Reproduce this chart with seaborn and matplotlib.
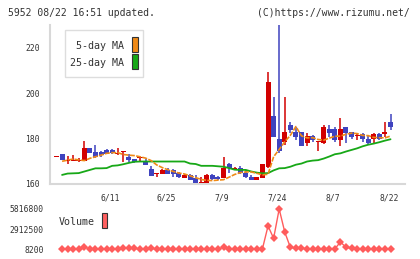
import numpy as np
import pandas as pd
import matplotlib
matplotlib.use("Agg")
import matplotlib.pyplot as plt
import seaborn as sns
from matplotlib.patches import Rectangle

sns.set_theme(style="white")
plt.rcParams['font.family'] = ['DejaVu Sans Mono', 'DejaVu Sans']

# ---------------- data ----------------
title_left = "5952 08/22 16:51 updated."
title_right = "(C)https://www.rizumu.net/"
date_labels = ["6/11", "6/25", "7/9", "7/24", "8/7", "8/22"]
date_label_idx = [10, 20, 30, 40, 50, 60]
price_ticks = [160, 180, 200, 220]
volume_ticks = [8200, 2912500, 5816800]

opens = [171.8, 173.2, 170.0, 170.1, 170.0, 170.1, 175.8, 174.3, 174.3, 175.0,
         174.9, 173.1, 173.9, 172.1, 171.0, 171.5, 170.3, 166.5, 164.5, 164.4,
         166.2, 166.2, 164.7, 162.8, 164.0, 162.5, 160.6, 160.6, 164.0, 163.2,
         162.8, 169.0, 166.4, 167.1, 165.0, 163.0, 161.8, 162.8, 167.6, 190.1,
         180.0, 178.5, 186.0, 182.9, 182.9, 177.9, 181.2, 178.3, 177.9, 184.3,
         184.3, 179.4, 185.0, 182.9, 181.0, 182.1, 179.9, 179.7, 182.1, 181.9,
         187.1]
highs = [171.9, 173.4, 172.4, 172.9, 171.3, 179.0, 176.0, 177.2, 174.5, 175.2,
         175.6, 175.7, 174.1, 173.2, 171.2, 171.9, 170.9, 167.9, 164.8, 166.4,
         167.0, 166.4, 165.2, 164.2, 164.2, 164.0, 163.2, 164.2, 164.2, 163.4,
         172.1, 169.2, 167.3, 167.9, 166.0, 164.0, 163.2, 169.0, 209.1, 198.1,
         230.1, 198.1, 187.1, 184.9, 183.1, 182.6, 181.4, 179.1, 186.0, 186.0,
         185.3, 189.0, 185.2, 183.1, 182.4, 182.3, 181.2, 182.3, 182.3, 187.1,
         190.9]
lows = [171.7, 170.5, 168.7, 170.0, 169.9, 170.0, 173.6, 171.6, 171.8, 173.0,
        173.3, 172.8, 169.9, 169.9, 169.1, 169.6, 168.3, 163.5, 162.9, 164.2,
        164.2, 163.2, 162.7, 162.6, 161.6, 160.4, 160.5, 160.5, 161.9, 161.9,
        162.6, 164.7, 166.0, 164.5, 162.7, 161.6, 161.6, 162.6, 167.0, 180.7,
        173.8, 177.2, 182.6, 179.4, 176.6, 176.8, 178.5, 174.7, 177.5, 180.9,
        178.7, 176.8, 177.9, 179.7, 179.4, 178.7, 177.7, 177.9, 179.5, 180.9,
        183.8]
closes = [171.9, 170.7, 170.2, 170.3, 170.3, 175.8, 173.8, 171.8, 172.8, 173.2,
          173.5, 173.3, 174.1, 170.6, 169.6, 171.8, 168.5, 163.7, 164.7, 166.2,
          164.4, 164.4, 162.9, 164.0, 161.8, 160.6, 161.0, 164.0, 162.1, 162.1,
          167.2, 166.9, 167.0, 164.7, 162.9, 161.8, 163.0, 168.8, 205.1, 180.9,
          174.7, 182.9, 183.8, 180.9, 176.8, 181.2, 179.4, 178.5, 185.0, 182.4,
          179.4, 184.3, 182.4, 180.9, 181.3, 179.7, 177.9, 182.1, 179.7, 183.1,
          184.9]

# moving averages, bars 1..60
ma5 = [170.0, 170.5, 171.0, 170.6, 170.3, 171.3, 172.0, 172.7, 173.5, 173.8,
       173.8, 173.0, 172.7, 172.5, 172.0, 171.4, 170.3, 168.4, 167.2, 166.3,
       165.5, 164.8, 164.4, 163.6, 162.8, 162.0, 161.6, 161.5, 161.7, 161.9,
       163.0, 164.2, 165.0, 165.3, 165.3, 164.7, 164.0, 164.3, 172.0, 175.2,
       178.6, 181.4, 185.3, 181.2, 180.3, 180.4, 179.6, 179.3, 180.2, 181.0,
       181.1, 181.9, 182.4, 182.2, 181.4, 181.3, 180.5, 180.4, 180.3, 181.1]
ma25 = [164.0, 164.6, 164.7, 164.8, 165.5, 166.2, 166.9, 166.9, 167.0, 168.0,
        168.2, 168.7, 169.3, 169.8, 169.9, 169.9, 169.9, 169.9, 169.9, 169.9,
        169.9, 169.9, 169.9, 169.0, 168.8, 168.0, 168.0, 168.0, 167.8, 167.6,
        167.0, 166.3, 166.2, 166.2, 165.5, 165.0, 164.7, 164.8, 166.0, 166.9,
        167.0, 167.6, 168.5, 169.0, 169.9, 170.3, 170.5, 171.2, 172.1, 173.1,
        173.5, 174.3, 175.0, 175.7, 176.6, 177.3, 177.8, 178.4, 179.1, 179.7]

# volume, bars 1..60
volume = [32000, 28000, 41000, 36000, 296000, 98000, 45000, 52000, 38000, 44000,
          60000, 150000, 160000, 140000, 62000, 58000, 150000, 52000, 40000, 36000,
          30000, 45000, 38000, 34000, 42000, 8200, 40000, 30000, 36000, 296000,
          90000, 42000, 50000, 38000, 30000, 36000, 104000, 3370000, 1590000, 5816800,
          2500000, 296000, 150000, 160000, 90000, 80000, 60000, 120000, 110000, 70000,
          1060000, 296000, 152000, 70000, 60000, 80000, 75000, 62000, 90000, 85000]

# ---------------- style ----------------
RED = "#d20000"
BLUE = "#3f43bf"
ORANGE = "#ef8a17"
GREEN = "#17a817"
VOLC = "#ff5c5c"
AXC = "#d8d8d8"
TXT = "#333333"

W, H = 420, 259
fig = plt.figure(figsize=(W / 100, H / 100), dpi=100)
fig.patch.set_facecolor("white")


def fx(x):
    return x / W


def fy(y):
    return 1 - y / H


x0_px, step_px = 56.5, 5.567
xlim = ((50 - x0_px) / step_px, (405 - x0_px) / step_px)

ax = fig.add_axes([fx(50), fy(184), fx(405) - fx(50), fy(25) - fy(184)])
ax.set_xlim(*xlim)
ax.set_ylim(160, 230)
ax.set_facecolor("white")

n = len(opens)
idx = np.arange(n)
o = np.array(opens)
c = np.array(closes)
hi = np.array(highs)
lo = np.array(lows)
up = c >= o
cols = np.where(up, RED, BLUE)

ax.vlines(idx, lo, hi, colors=cols, lw=1.1, zorder=2)
body_bottom = np.minimum(o, c)
body_h = np.maximum(np.abs(c - o), 0.5)
ax.bar(idx, body_h, bottom=body_bottom, width=0.9, color=cols, lw=0, zorder=3)

ma_idx = np.arange(1, n)
df_ma = pd.DataFrame({"i": ma_idx, "ma5": ma5, "ma25": ma25})
sns.lineplot(data=df_ma, x="i", y="ma25", ax=ax, color=GREEN, lw=1.3, zorder=4)
sns.lineplot(data=df_ma, x="i", y="ma5", ax=ax, color=ORANGE, lw=1.2,
             linestyle=(0, (3, 0.8)), zorder=5)
ax.set_xlabel("")
ax.set_ylabel("")

for s in ["top", "right"]:
    ax.spines[s].set_visible(False)
for s in ["left", "bottom"]:
    ax.spines[s].set_color(AXC)
    ax.spines[s].set_linewidth(1.5)

ax.set_yticks(price_ticks)
ax.set_yticklabels([str(t) for t in price_ticks])
ax.set_xticks(np.linspace(xlim[0], xlim[1], 12))
ax.set_xticklabels([])
ax.tick_params(axis="y", direction="inout", length=6, width=1.3, color=AXC,
               labelsize=5.8, labelcolor=TXT, pad=4.5)
ax.tick_params(axis="x", direction="inout", length=6, width=1.3, color=AXC)

for lab, i in zip(date_labels, date_label_idx):
    ax.text(i - 0.3, (184 - 198) / 159, lab, transform=ax.get_xaxis_transform(),
            ha="center", va="center", fontsize=5.8, color=TXT)

# legend box for moving averages
fig.add_artist(Rectangle((fx(65), fy(77)), fx(143) - fx(65), fy(30) - fy(77),
                         transform=fig.transFigure, facecolor="white",
                         edgecolor="#dddddd", lw=1, zorder=10))
fig.text(fx(124), fy(46), "5-day MA", ha="right", va="center", fontsize=7.2,
         color=TXT, zorder=11)
fig.text(fx(124), fy(63), "25-day MA", ha="right", va="center", fontsize=7.2,
         color=TXT, zorder=11)
fig.add_artist(Rectangle((fx(132), fy(52)), fx(138) - fx(132), fy(37) - fy(52),
                         transform=fig.transFigure, facecolor=ORANGE,
                         edgecolor="#333333", lw=0.8, zorder=11))
fig.add_artist(Rectangle((fx(132), fy(69)), fx(138) - fx(132), fy(54) - fy(69),
                         transform=fig.transFigure, facecolor=GREEN,
                         edgecolor="#333333", lw=0.8, zorder=11))

# ---------------- volume panel ----------------
axv = fig.add_axes([fx(50), fy(249.3), fx(405) - fx(50), fy(209) - fy(249.3)])
axv.set_xlim(*xlim)
axv.set_ylim(volume_ticks[0], volume_ticks[-1])
axv.patch.set_alpha(0)
df_v = pd.DataFrame({"i": ma_idx, "v": volume})
sns.lineplot(data=df_v, x="i", y="v", ax=axv, color=VOLC, lw=1.0, marker="D",
             markersize=4.0, markeredgewidth=0, clip_on=False)
axv.set_xlabel("")
axv.set_ylabel("")
for s in axv.spines.values():
    s.set_visible(False)
axv.set_xticks([])
axv.set_yticks(volume_ticks)
axv.set_yticklabels([str(t) for t in volume_ticks])
axv.tick_params(axis="y", length=0, labelsize=5.8, labelcolor=TXT, pad=4.5)

fig.text(fx(59), fy(222), "Volume", ha="left", va="center", fontsize=7.2, color=TXT)
fig.add_artist(Rectangle((fx(102), fy(228)), fx(107) - fx(102), fy(213) - fy(228),
                         transform=fig.transFigure, facecolor="#ff6060",
                         edgecolor="#333333", lw=0.8))

# ---------------- header ----------------
fig.text(fx(8), fy(13), title_left, ha="left", va="center", fontsize=7.0, color=TXT)
fig.text(fx(410), fy(13), title_right, ha="right", va="center", fontsize=7.0, color=TXT)

fig.savefig("out.png", dpi=100, facecolor="white")
